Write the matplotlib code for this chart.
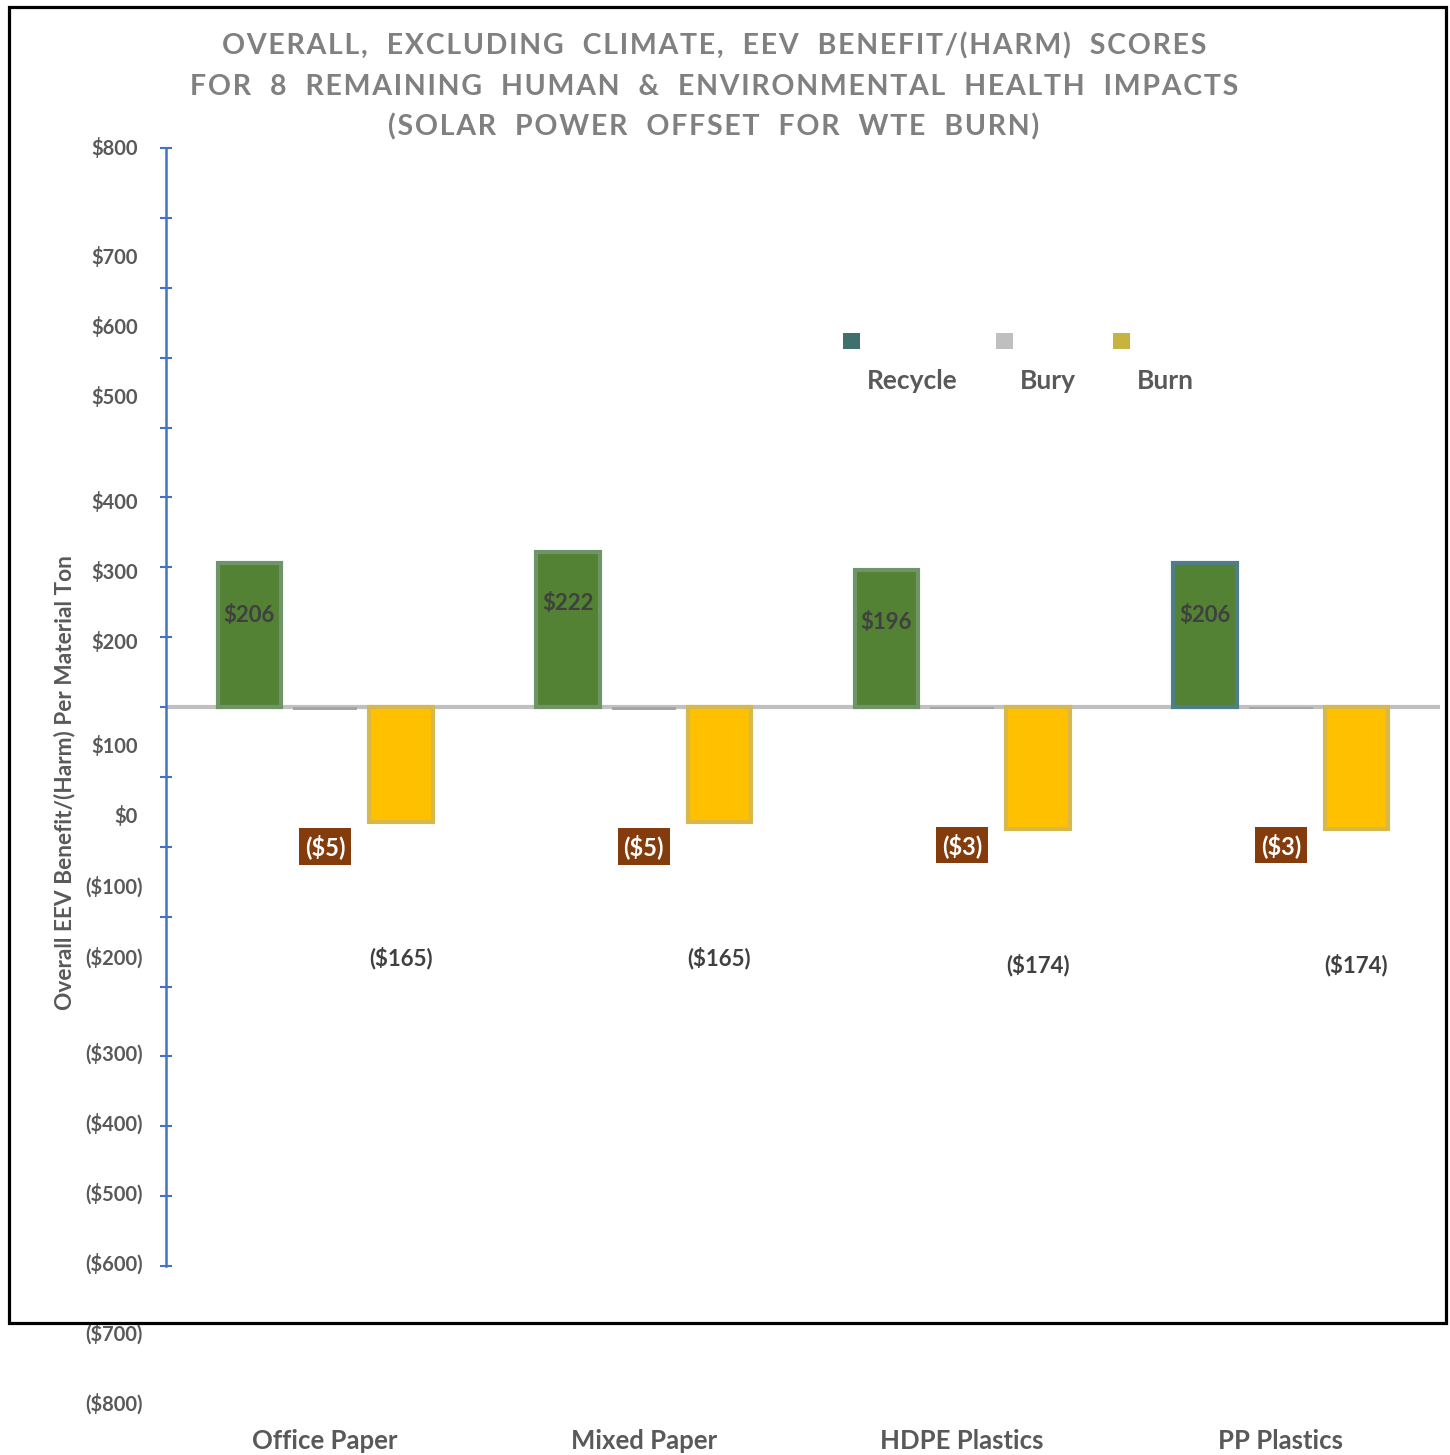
import matplotlib.pyplot as plt
from matplotlib.patches import Rectangle
from matplotlib.transforms import blended_transform_factory
import numpy as np

plt.rcParams['font.family'] = ['Lato', 'DejaVu Sans']

# Datos del gráfico
categorias = ['Office Paper', 'Mixed Paper', 'HDPE Plastics', 'PP Plastics']
series = ['Recycle', 'Bury', 'Burn']
recycle = [206, 222, 196, 206]
bury = [-5, -5, -3, -3]
burn = [-165, -165, -174, -174]

# Etiquetas del eje Y (tal como aparecen en el gráfico)
ytick_vals = list(range(800, -900, -100))
ytick_text = ['$800', '$700', '$600', '$500', '$400', '$300', '$200', '$100', '$0',
              '($100)', '($200)', '($300)', '($400)', '($500)', '($600)', '($700)', '($800)']
# posición vertical de cada etiqueta (en unidades del eje)
ytick_text_pos = [799, 643, 543, 443, 293, 193, 93, -57, -157, -257, -359,
                  -497, -597, -697, -797, -897, -997]

titulo = ['OVERALL,  EXCLUDING  CLIMATE,  EEV  BENEFIT/(HARM)  SCORES',
          'FOR  8  REMAINING  HUMAN  &  ENVIRONMENTAL  HEALTH  IMPACTS',
          '(SOLAR  POWER  OFFSET  FOR  WTE  BURN)']


def fmt(v):
    return f'${v:,.0f}' if v >= 0 else f'(${-v:,.0f})'


def espaciar(s):
    # espaciado entre letras del título
    return '\u200a'.join(s)


W, H = 1450, 1455
fig = plt.figure(figsize=(W / 100, H / 100), dpi=100)
ax = fig.add_axes([166 / W, 1 - 1266 / H, 1274 / W, 1118 / H])

x = np.arange(len(categorias))
ancho = 0.2
paso = 0.238

# Barras (borde más claro para simular el difuminado)
ax.bar(x - paso, recycle, ancho, color='#548235', edgecolor='#6f9468', linewidth=3, zorder=3)
ax.patches[-1].set_edgecolor('#4f7f86')
ax.bar(x, bury, ancho, color='#a5a5a5', linewidth=0, zorder=3)
ax.bar(x + paso, burn, ancho, color='#ffc000', edgecolor='#d6b94a', linewidth=3, zorder=3)

# Línea del cero
ax.axhline(0, color='#c0c0c0', linewidth=3, zorder=2)

ax.set_xlim(-0.5, 3.5)
ax.set_ylim(-800, 800)

for s in ['top', 'right', 'bottom']:
    ax.spines[s].set_visible(False)
ax.spines['left'].set_color('#4472c4')
ax.spines['left'].set_linewidth(1.8)
ax.set_xticks([])
ax.set_yticks(ytick_vals)
ax.set_yticklabels([])
ax.tick_params(axis='y', direction='inout', length=9, width=1.5, color='#4472c4')

trans = blended_transform_factory(fig.transFigure, ax.transData)
for txt, pos in zip(ytick_text, ytick_text_pos):
    xr = 143 if txt.startswith('(') else 138
    ax.text(xr / W, pos, txt, transform=trans, ha='right', va='center',
            fontsize=14.5, fontweight='bold', color='#595959')

# Etiquetas de datos
for i in range(len(categorias)):
    ax.annotate(fmt(recycle[i]), (x[i] - paso, recycle[i]), xytext=(0, -52),
                textcoords='offset pixels', ha='center', va='center',
                fontsize=16, fontweight='bold', color='#404040', zorder=5)
    ax.annotate(fmt(bury[i]), (x[i], bury[i]), xytext=(0, -136),
                textcoords='offset pixels', ha='center', va='center',
                fontsize=17, fontweight='bold', color='white', zorder=5,
                bbox=dict(boxstyle='square,pad=0.25', fc='#843c0c', ec='none'))
    ax.annotate(fmt(burn[i]), (x[i] + paso, burn[i]), xytext=(0, -136),
                textcoords='offset pixels', ha='center', va='center',
                fontsize=16, fontweight='bold', color='#404040', zorder=5)

# Nombres de categorías
for i, c in enumerate(categorias):
    ax.text(x[i], 1 - 1441 / H, c, transform=blended_transform_factory(ax.transData, fig.transFigure),
            ha='center', va='center', fontsize=18.5, fontweight='bold', color='#595959')

# Título del eje Y
fig.text(65 / W, 1 - 783 / H, 'Overall EEV Benefit/(Harm) Per Material Ton', rotation=90,
         ha='center', va='center', fontsize=16.3, fontweight='bold', color='#595959')

# Título
for linea, yy in zip(titulo, [46, 87, 127]):
    fig.text(714 / W, 1 - yy / H, espaciar(linea), ha='center', va='center',
             fontsize=20.5, fontweight='bold', color='#808080')

# Leyenda (marcador arriba, texto abajo)
leg_colores = ['#3f706b', '#bfbfbf', '#c9b340']
leg_x = [843, 996, 1113]
for nombre, col, lx in zip(series, leg_colores, leg_x):
    fig.add_artist(Rectangle((lx / W, 1 - 349 / H), 17 / W, 16 / H, transform=fig.transFigure,
                             facecolor=col, edgecolor='none'))
    fig.text((lx + 24) / W, 1 - 381 / H, nombre, ha='left', va='center',
             fontsize=19, fontweight='bold', color='#595959')

# Marco exterior
fig.add_artist(Rectangle((9 / W, 1 - 1323 / H), 1437 / W, 1316 / H, transform=fig.transFigure,
                         fill=False, edgecolor='black', linewidth=2.3))

fig.savefig('out.png', dpi=100)
